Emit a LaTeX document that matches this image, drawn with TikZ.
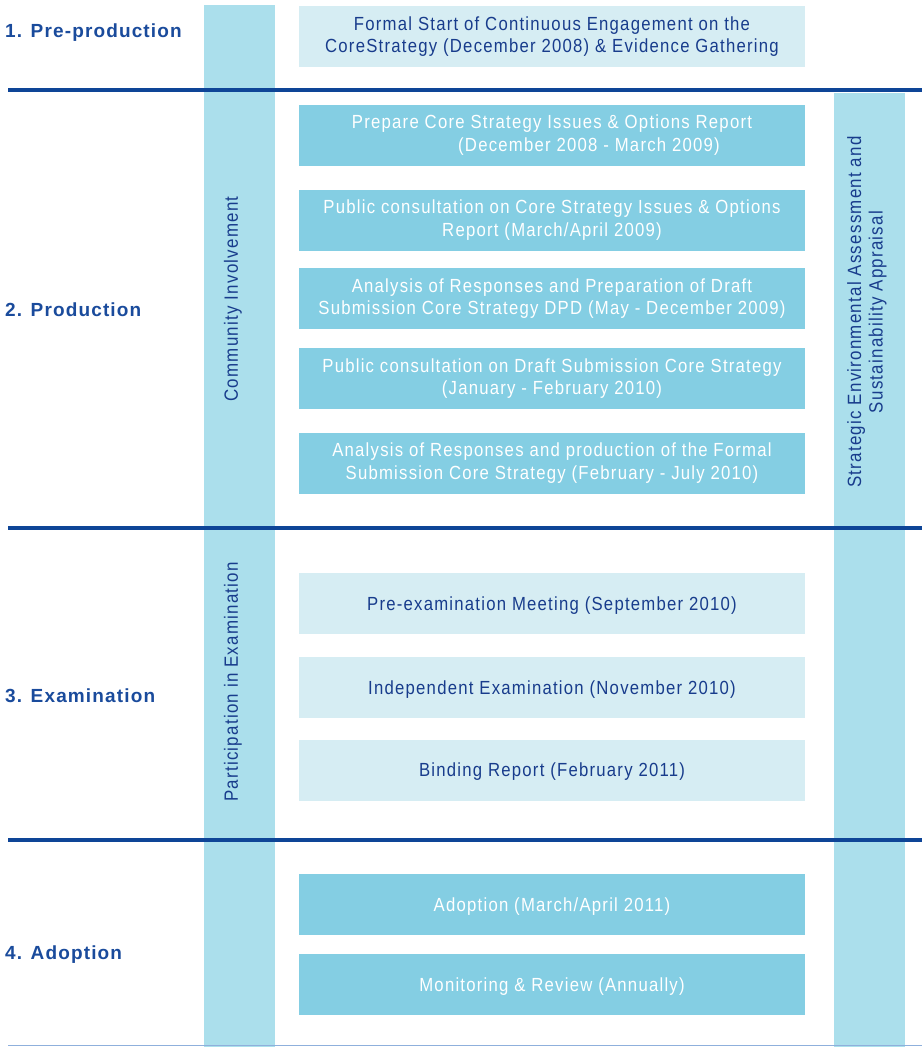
\documentclass[tikz,border=0pt]{standalone}
\usepackage{fontspec}
\setmainfont{Liberation Sans}[FakeStretch=0.88,LetterSpace=6.5]
\newfontfamily\headfont{Liberation Sans}[LetterSpace=6]
\definecolor{colbar}{HTML}{ABDFEC}
\definecolor{midbox}{HTML}{84CEE3}
\definecolor{palebox}{HTML}{D6EDF3}
\definecolor{rule}{HTML}{0E4597}
\definecolor{thinrule}{HTML}{8FB0DC}
\definecolor{darktext}{HTML}{183C8C}
\definecolor{headtext}{HTML}{1A4B9C}
\begin{document}
\begin{tikzpicture}[x=1pt,y=-1pt,
  bar/.style={fill=colbar, draw=none, inner sep=0pt, minimum width=71pt},
  midstep/.style={fill=midbox, draw=none, inner sep=0pt, minimum width=506pt, minimum height=61pt,
     text=white, align=center, font=\fontsize{19}{22.5}\selectfont},
  palestep/.style={fill=palebox, draw=none, inner sep=0pt, minimum width=506pt, minimum height=61pt,
     text=darktext, align=center, font=\fontsize{19}{22.5}\selectfont},
  oneline/.style={text depth=0pt},
  phase/.style={anchor=west, text=headtext, font=\headfont\fontsize{19}{22}\selectfont\bfseries, inner sep=0pt},
  bartext/.style={rotate=90, text=darktext, align=center, font=\fontsize{19.2}{21.5}\selectfont, inner sep=0pt},
  sep/.style={draw=rule, line width=4pt}]
\useasboundingbox (0,0) rectangle (922,1047);
\fill[white] (0,0) rectangle (922,1047);
% bars
\node[bar, minimum height=1042pt] (lbar) at (239,526) {};
\node[bar, minimum height=954pt] (rbar) at (869.5,570) {};
% separators
\coordinate (s1a) at (8,90); \coordinate (s1b) at (922,90);
\coordinate (s2a) at (8,528); \coordinate (s2b) at (922,528);
\coordinate (s3a) at (8,840); \coordinate (s3b) at (922,840);
\coordinate (s4a) at (8,1045.5); \coordinate (s4b) at (922,1045.5);
\draw[sep] (s1a) -- (s1b);
\draw[sep] (s2a) -- (s2b);
\draw[sep] (s3a) -- (s3b);
\draw[draw=thinrule, line width=1.5pt] (s4a) -- (s4b);
% bar texts
\node[bartext] (ci) at (233,299) {Community Involvement};
\node[bartext] (pe) at (233,682) {Participation in Examination};
\node[bartext] (sea) at (867,312) {Strategic Environmental Assessment and\\Sustainability Appraisal};
% phases
\node[phase] (p1) at (5,32.5) {1. Pre-production};
\node[phase] (p2) at (5,310) {2. Production};
\node[phase] (p3) at (5,696) {3. Examination};
\node[phase] (p4) at (5,955) {4. Adoption};
% boxes
\node[palestep] (b1) at (552,36.5) {Formal Start of Continuous Engagement on the\\CoreStrategy (December 2008) \& Evidence Gathering};
\node[midstep] (b2) at (552,135) {Prepare Core Strategy Issues \& Options Report\\\hspace*{74pt}(December 2008 - March 2009)};
\node[midstep] (b3) at (552,220) {Public consultation on Core Strategy Issues \& Options\\Report (March/April 2009)};
\node[midstep] (b4) at (552,298.5) {Analysis of Responses and Preparation of Draft\\Submission Core Strategy DPD (May - December 2009)};
\node[midstep] (b5) at (552,378.5) {Public consultation on Draft Submission Core Strategy\\(January - February 2010)};
\node[midstep] (b6) at (552,463) {Analysis of Responses and production of the Formal\\Submission Core Strategy (February - July 2010)};
\node[palestep, oneline] (b7) at (552,603.5) {Pre-examination Meeting (September 2010)};
\node[palestep, oneline] (b8) at (552,687.5) {Independent Examination (November 2010)};
\node[palestep, oneline] (b9) at (552,770) {Binding Report (February 2011)};
\node[midstep, oneline] (b10) at (552,904.5) {Adoption (March/April 2011)};
\node[midstep, oneline] (b11) at (552,984.5) {Monitoring \& Review (Annually)};
\end{tikzpicture}
\end{document}
